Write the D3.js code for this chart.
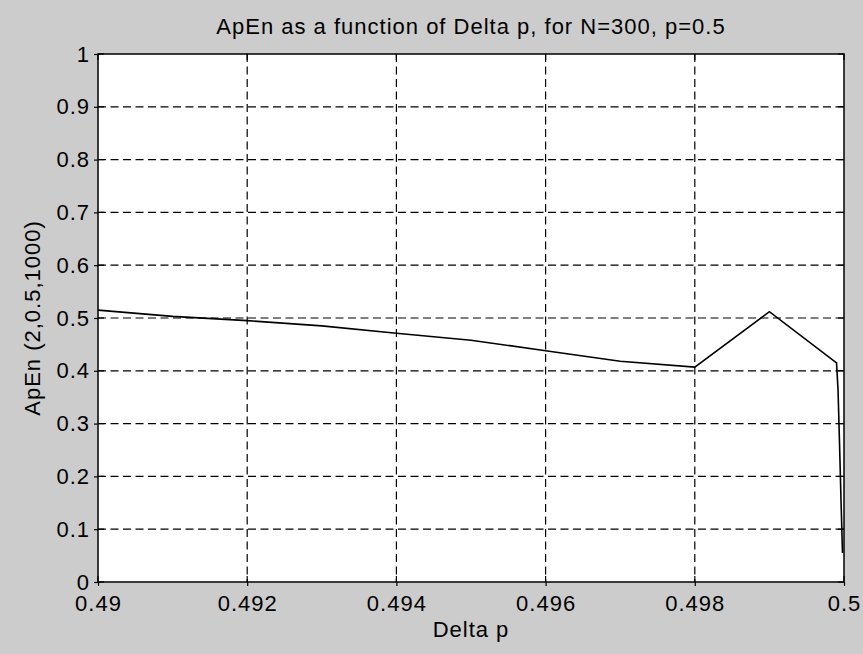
<!DOCTYPE html>
<html>
<head>
<meta charset="utf-8">
<script src="https://cdn.jsdelivr.net/npm/d3@7"></script>
<style>
  body { margin: 0; background: #cccccc; }
  text { font-family: "Liberation Sans", Arial, sans-serif; fill: #000; letter-spacing: 1px; }
</style>
</head>
<body>
<script>
// Data.
const deltaP = [0.490, 0.491, 0.492, 0.493, 0.494, 0.495, 0.496, 0.497, 0.498, 0.499,
                0.4999, 0.49992, 0.49994, 0.49996, 0.49998];
const apen = [0.515, 0.503, 0.495, 0.485, 0.471, 0.458, 0.438, 0.418, 0.407, 0.512,
              0.415, 0.364, 0.263, 0.155, 0.055];
const xTicks = [0.49, 0.492, 0.494, 0.496, 0.498, 0.5];
const xTickLabels = ['0.49', '0.492', '0.494', '0.496', '0.498', '0.5'];
const yTicks = [0, 0.1, 0.2, 0.3, 0.4, 0.5, 0.6, 0.7, 0.8, 0.9, 1];
const yTickLabels = ['0', '0.1', '0.2', '0.3', '0.4', '0.5', '0.6', '0.7', '0.8', '0.9', '1'];

const W = 863, H = 654;
const margin = { top: 54, right: 19, bottom: 72, left: 98 };
const width = W - margin.left - margin.right;
const height = H - margin.top - margin.bottom;

const svg = d3.select('body').append('svg')
  .attr('width', W)
  .attr('height', H);

svg.append('rect').attr('width', W).attr('height', H).attr('fill', '#cccccc');

const root = svg.append('g')
  .attr('transform', `translate(${margin.left},${margin.top})`);

const x = d3.scaleLinear().domain([0.49, 0.5]).range([0, width]);
const y = d3.scaleLinear().domain([0, 1]).range([height, 0]);

// plot area
root.append('rect')
  .attr('width', width)
  .attr('height', height)
  .attr('fill', '#ffffff');

// dashed grid
const grid = root.append('g')
  .attr('stroke', '#000')
  .attr('stroke-width', 1.2)
  .attr('stroke-dasharray', '8,4.5');

grid.selectAll('.gx')
  .data(xTicks.slice(1, -1))
  .enter().append('line')
  .attr('x1', d => x(d)).attr('x2', d => x(d))
  .attr('y1', 0).attr('y2', height);

grid.selectAll('.gy')
  .data(yTicks.slice(1, -1))
  .enter().append('line')
  .attr('x1', 0).attr('x2', width)
  .attr('y1', d => y(d)).attr('y2', d => y(d));

// the curve
const line = d3.line()
  .x((d, i) => x(deltaP[i]))
  .y(d => y(d));

root.append('path')
  .datum(apen)
  .attr('d', line)
  .attr('fill', 'none')
  .attr('stroke', '#000')
  .attr('stroke-width', 1.6)
  .attr('stroke-linejoin', 'miter');

// axes
function styleAxis(g) {
  g.select('.domain').remove();
  g.selectAll('.tick line').attr('stroke', '#000').attr('stroke-width', 1.2);
  g.selectAll('.tick text')
    .attr('fill', '#000')
    .style('font-size', '22px')
    .style('font-family', '"Liberation Sans", Arial, sans-serif');
}

const xAxis = d3.axisBottom(x)
  .tickValues(xTicks)
  .tickFormat((d, i) => xTickLabels[i])
  .tickSize(4)
  .tickPadding(9);

const yAxis = d3.axisLeft(y)
  .tickValues(yTicks)
  .tickFormat((d, i) => yTickLabels[i])
  .tickSize(4)
  .tickPadding(4);

root.append('g')
  .attr('transform', `translate(0,${height})`)
  .call(xAxis)
  .call(styleAxis);

root.append('g')
  .call(yAxis)
  .call(styleAxis);

// inner ticks on all four sides
const inner = root.append('g').attr('stroke', '#000').attr('stroke-width', 1.2);
xTicks.forEach(t => {
  inner.append('line').attr('x1', x(t)).attr('x2', x(t)).attr('y1', height).attr('y2', height - 6);
  inner.append('line').attr('x1', x(t)).attr('x2', x(t)).attr('y1', 0).attr('y2', 6);
});
yTicks.forEach(t => {
  inner.append('line').attr('x1', 0).attr('x2', 6).attr('y1', y(t)).attr('y2', y(t));
  inner.append('line').attr('x1', width).attr('x2', width - 6).attr('y1', y(t)).attr('y2', y(t));
});

// box
root.append('rect')
  .attr('width', width)
  .attr('height', height)
  .attr('fill', 'none')
  .attr('stroke', '#000')
  .attr('stroke-width', 1.5);

// title and labels
svg.append('text')
  .attr('x', margin.left + width / 2)
  .attr('y', 34)
  .attr('text-anchor', 'middle')
  .style('font-size', '22px')
  .text('ApEn as a function of Delta p, for N=300, p=0.5');

svg.append('text')
  .attr('x', margin.left + width / 2)
  .attr('y', 637)
  .attr('text-anchor', 'middle')
  .style('font-size', '22px')
  .text('Delta p');

svg.append('text')
  .attr('transform', `translate(40,${margin.top + height / 2}) rotate(-90)`)
  .attr('text-anchor', 'middle')
  .style('font-size', '22px')
  .text('ApEn (2,0.5,1000)');
</script>
</body>
</html>
